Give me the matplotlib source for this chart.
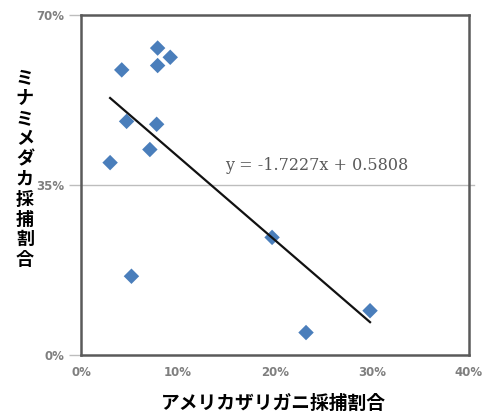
import matplotlib
matplotlib.use('Agg')
import matplotlib.pyplot as plt
import numpy as np
from matplotlib.ticker import PercentFormatter

# crayfish catch ratio vs. medaka catch ratio per site
crayfish = [0.079, 0.092, 0.079, 0.042, 0.047, 0.078, 0.071, 0.030, 0.197, 0.052, 0.298, 0.232]
medaka = [0.632, 0.613, 0.596, 0.587, 0.481, 0.475, 0.423, 0.396, 0.242, 0.162, 0.091, 0.046]

SLOPE = -1.7227
INTERCEPT = 0.5808

XTICKS = [0, 0.1, 0.2, 0.3, 0.4]
YTICKS = [0, 0.35, 0.7]

XLABEL = 'アメリカザリガニ採捕割合'
YLABEL = 'ミナミメダカ採捕割合'

JP_FONT = ['Noto Sans CJK JP', 'DejaVu Sans']
TICK_GRAY = '#7f7f7f'
SPINE = '#5a5a5a'


def main():
    fig = plt.figure(figsize=(4.88, 4.18), dpi=100)
    ax = fig.add_axes([0.166, 0.151, 0.795, 0.813])

    ax.set_xlim(0, 0.4)
    ax.set_ylim(0, 0.7)

    # horizontal guide at 35%, running a little past the right frame
    ax.axhline(0.35, xmin=0, xmax=1.012, color='#bdbdbd', linewidth=1.0,
               clip_on=False, zorder=1)

    ax.scatter(crayfish, medaka, marker='D', s=62, color='#4a7ebb',
               edgecolors='none', zorder=3)

    # linear trend over the observed range
    xs = np.array([min(crayfish), max(crayfish)])
    ax.plot(xs, SLOPE * xs + INTERCEPT, color='#111111', linewidth=1.6, zorder=4)
    ax.text(0.1485, 0.391, f'y = -{abs(SLOPE):.4f}x + {INTERCEPT:.4f}',
            family='DejaVu Serif', fontsize=11.5, color='#595959',
            va='center', ha='left', zorder=5)

    ax.set_xticks(XTICKS)
    ax.set_yticks(YTICKS)
    ax.xaxis.set_major_formatter(PercentFormatter(1.0, decimals=0))
    ax.yaxis.set_major_formatter(PercentFormatter(1.0, decimals=0))
    ax.tick_params(axis='x', length=0, pad=8, labelsize=8.5, labelcolor=TICK_GRAY)
    ax.tick_params(axis='y', length=9, width=1.0, color='#bdbdbd', pad=3,
                   labelsize=8.5, labelcolor=TICK_GRAY)
    for lbl in ax.get_xticklabels() + ax.get_yticklabels():
        lbl.set_fontweight('bold')

    for sp in ax.spines.values():
        sp.set_color(SPINE)
        sp.set_linewidth(1.8)

    fig.text(0.561, 0.036, XLABEL, family=JP_FONT, fontsize=13.5,
             fontweight='bold', ha='center', va='center')
    fig.text(0.051, 0.596, '\n'.join(YLABEL), family=JP_FONT, fontsize=13,
             fontweight='bold', ha='center', va='center', linespacing=1.08)

    fig.savefig('out.png', dpi=100, facecolor='white')
    plt.close(fig)


if __name__ == '__main__':
    main()
